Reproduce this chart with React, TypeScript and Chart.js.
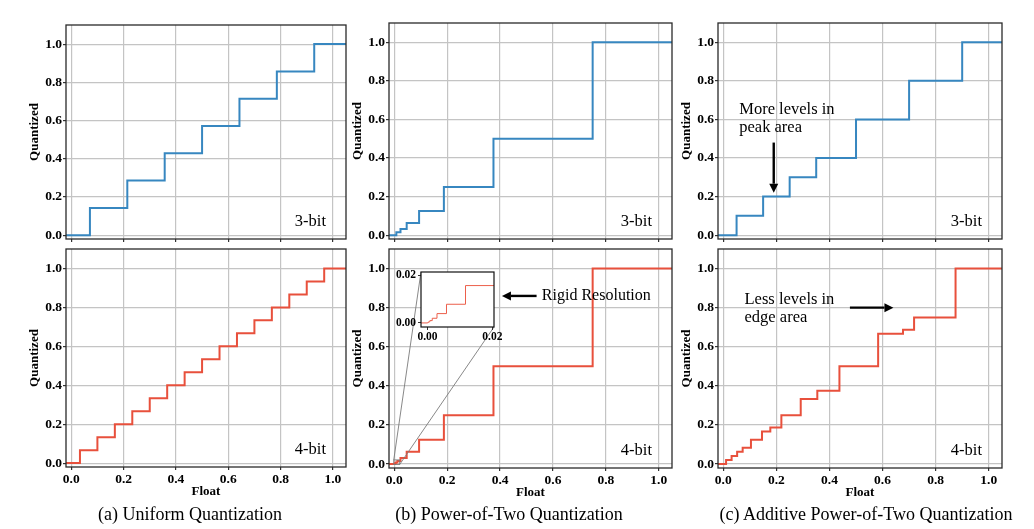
import React, { useEffect, useRef } from "react";
import { Chart, registerables } from "chart.js";

Chart.register(...registerables);

const SERIF = "'Liberation Serif', 'Times New Roman', serif";

// ---------- axes ----------
const X_TICKS = [0, 0.2, 0.4, 0.6, 0.8, 1.0];
const Y_TICKS = [0, 0.2, 0.4, 0.6, 0.8, 1.0];
const X_MIN = -0.02;
const X_MAX = 1.05;
const Y_MIN = -0.02;
const Y_MAX = 1.1;
const LINE_START = -0.05;
const LINE_END = 1.1;

const INSET_X_TICKS = [0, 0.02];
const INSET_Y_TICKS = [0, 0.02];
const INSET_X_MIN = -0.002;
const INSET_X_MAX = 0.0205;
const INSET_Y_MIN = -0.0017;
const INSET_Y_MAX = 0.0213;

// ---------- data ----------
const UNIFORM3_THRESH = [0.071429, 0.214286, 0.357143, 0.5, 0.642857, 0.785714, 0.928571];
const UNIFORM3_LEVELS = [0, 0.142857, 0.285714, 0.428571, 0.571429, 0.714286, 0.857143, 1.0];

const UNIFORM4_THRESH = [0.033333, 0.1, 0.166667, 0.233333, 0.3, 0.366667, 0.433333, 0.5, 0.566667, 0.633333, 0.7, 0.766667, 0.833333, 0.9, 0.966667];
const UNIFORM4_LEVELS = [0, 0.066667, 0.133333, 0.2, 0.266667, 0.333333, 0.4, 0.466667, 0.533333, 0.6, 0.666667, 0.733333, 0.8, 0.866667, 0.933333, 1.0];

const POT3_THRESH = [0.0078125, 0.0234375, 0.046875, 0.09375, 0.1875, 0.375, 0.75];
const POT3_LEVELS = [0, 0.015625, 0.03125, 0.0625, 0.125, 0.25, 0.5, 1.0];

const POT4_THRESH = [0.00003052, 0.00009155, 0.00018311, 0.00036621, 0.00073242, 0.00146484, 0.00292969, 0.00585938, 0.01171875, 0.0234375, 0.046875, 0.09375, 0.1875, 0.375, 0.75];
const POT4_LEVELS = [0, 0.00006104, 0.00012207, 0.00024414, 0.00048828, 0.00097656, 0.00195313, 0.00390625, 0.0078125, 0.015625, 0.03125, 0.0625, 0.125, 0.25, 0.5, 1.0];

const APOT3_THRESH = [0.05, 0.15, 0.25, 0.35, 0.5, 0.7, 0.9];
const APOT3_LEVELS = [0, 0.1, 0.2, 0.3, 0.4, 0.6, 0.8, 1.0];

const APOT4_THRESH = [0.010417, 0.03125, 0.052083, 0.072917, 0.104167, 0.145833, 0.177083, 0.21875, 0.291667, 0.354167, 0.4375, 0.583333, 0.677083, 0.71875, 0.875];
const APOT4_LEVELS = [0, 0.020833, 0.041667, 0.0625, 0.083333, 0.125, 0.166667, 0.1875, 0.25, 0.333333, 0.375, 0.5, 0.666667, 0.6875, 0.75, 1.0];

// ---------- text ----------
const CAPTIONS = [
  "(a) Uniform Quantization",
  "(b) Power-of-Two Quantization",
  "(c) Additive Power-of-Two Quantization",
];
const BIT_LABELS = ["3-bit", "4-bit"];
const X_TITLE = "Float";
const Y_TITLE = "Quantized";
const PEAK_TEXT = ["More levels in", "peak area"];
const EDGE_TEXT = ["Less levels in", "edge area"];
const RIGID_TEXT = ["Rigid Resolution"];

const BLUE = "#3787c0";
const RED = "#e8503c";
const GRID = "#c4c4c4";

type Frame = { l: number; t: number; r: number; b: number };
type TextAnn = { lines: string[]; x: number; y: number; size: number; gap: number };
type ArrowAnn = { from: [number, number]; to: [number, number] };
type PanelCfg = {
  frame: Frame;
  showX: boolean;
  color: string;
  thresh: number[];
  levels: number[];
  bit: string;
  texts: TextAnn[];
  arrows: ArrowAnn[];
  inset?: boolean;
};

const INSET_FRAC = { x0: 0.113, y0: 0.105, x1: 0.371, y1: 0.356 };

function stepPoints(th: number[], lv: number[], start: number, end: number) {
  const pts: { x: number; y: number }[] = [{ x: start, y: lv[0] }];
  th.forEach((t, i) => pts.push({ x: t, y: lv[i + 1] }));
  pts.push({ x: end, y: lv[lv.length - 1] });
  return pts;
}

function drawArrow(ctx: CanvasRenderingContext2D, x0: number, y0: number, x1: number, y1: number) {
  const head = 9;
  const hw = 4.5;
  const ang = Math.atan2(y1 - y0, x1 - x0);
  const bx = x1 - head * Math.cos(ang);
  const by = y1 - head * Math.sin(ang);
  ctx.beginPath();
  ctx.moveTo(x0, y0);
  ctx.lineTo(bx, by);
  ctx.lineWidth = 2.4;
  ctx.strokeStyle = "#000";
  ctx.stroke();
  ctx.beginPath();
  ctx.moveTo(x1, y1);
  ctx.lineTo(bx - hw * Math.sin(ang), by + hw * Math.cos(ang));
  ctx.lineTo(bx + hw * Math.sin(ang), by - hw * Math.cos(ang));
  ctx.closePath();
  ctx.fillStyle = "#000";
  ctx.fill();
}

function makeDeco(cfg: PanelCfg) {
  return {
    id: "deco",
    afterDatasetsDraw(chart: any) {
      const ctx: CanvasRenderingContext2D = chart.ctx;
      const ca = chart.chartArea;
      const xs = chart.scales.x;
      const ys = chart.scales.y;
      ctx.save();
      ctx.strokeStyle = "#2a2a2a";
      ctx.lineWidth = 1.3;
      ctx.strokeRect(ca.left, ca.top, ca.right - ca.left, ca.bottom - ca.top);

      ctx.fillStyle = "#000";
      ctx.font = `16.5px ${SERIF}`;
      ctx.textAlign = "right";
      ctx.textBaseline = "alphabetic";
      ctx.fillText(cfg.bit, ca.right - 20, ca.bottom - 13);

      ctx.textAlign = "left";
      cfg.texts.forEach((t) => {
        ctx.font = `${t.size}px ${SERIF}`;
        const px = xs.getPixelForValue(t.x);
        const py = ys.getPixelForValue(t.y);
        t.lines.forEach((ln, i) => ctx.fillText(ln, px, py + i * t.gap));
      });
      cfg.arrows.forEach((a) => {
        drawArrow(
          ctx,
          xs.getPixelForValue(a.from[0]),
          ys.getPixelForValue(a.from[1]),
          xs.getPixelForValue(a.to[0]),
          ys.getPixelForValue(a.to[1])
        );
      });

      if (cfg.inset) {
        const w = ca.right - ca.left;
        const h = ca.bottom - ca.top;
        const ix0 = ca.left + INSET_FRAC.x0 * w;
        const iy0 = ca.top + INSET_FRAC.y0 * h;
        const ix1 = ca.left + INSET_FRAC.x1 * w;
        const iy1 = ca.top + INSET_FRAC.y1 * h;
        const rx0 = xs.getPixelForValue(INSET_X_MIN);
        const rx1 = xs.getPixelForValue(INSET_X_MAX);
        const ry0 = ys.getPixelForValue(INSET_Y_MAX);
        const ry1 = ys.getPixelForValue(INSET_Y_MIN);
        ctx.strokeStyle = "#7a7a7a";
        ctx.lineWidth = 0.9;
        ctx.strokeRect(rx0, ry0, rx1 - rx0, ry1 - ry0);
        ctx.beginPath();
        ctx.moveTo(ix0, iy0);
        ctx.lineTo(rx0, ry0);
        ctx.moveTo(ix1, iy1);
        ctx.lineTo(rx1, ry1);
        ctx.stroke();
      }
      ctx.restore();
    },
  };
}

const PAD_L = 43;
const PAD_R = 10;
const PAD_T = 10;

function Panel({ cfg }: { cfg: PanelCfg }) {
  const ref = useRef<HTMLCanvasElement>(null);
  const f = cfg.frame;
  const padB = cfg.showX ? 32 : 12;
  const W = f.r - f.l + PAD_L + PAD_R;
  const H = f.b - f.t + PAD_T + padB;

  useEffect(() => {
    const tickFont = { family: SERIF, size: 13.5, weight: "bold" as const };
    const titleFont = { family: SERIF, size: 13, weight: "bold" as const };
    const chart = new Chart(ref.current!, {
      type: "line",
      data: {
        datasets: [
          {
            data: stepPoints(cfg.thresh, cfg.levels, LINE_START, LINE_END),
            borderColor: cfg.color,
            borderWidth: 2,
            stepped: true,
            pointRadius: 0,
            fill: false,
          },
        ],
      },
      options: {
        responsive: false,
        animation: false,
        layout: { padding: { left: 0, top: PAD_T, right: PAD_R, bottom: 0 } },
        plugins: { legend: { display: false }, tooltip: { enabled: false } },
        scales: {
          x: {
            type: "linear",
            min: X_MIN,
            max: X_MAX,
            afterBuildTicks: (s: any) => {
              s.ticks = X_TICKS.map((v) => ({ value: v }));
            },
            afterFit: (s: any) => {
              s.height = padB;
            },
            grid: { color: GRID, lineWidth: 1.2, tickLength: 3, tickColor: "#333" },
            border: { display: false },
            ticks: {
              display: cfg.showX,
              font: tickFont,
              color: "#000",
              padding: 1,
              maxRotation: 0,
              autoSkip: false,
              callback: (v: any) => Number(v).toFixed(1),
            },
            title: {
              display: cfg.showX,
              text: X_TITLE,
              font: titleFont,
              color: "#000",
              padding: { top: 0, bottom: 0 },
            },
          },
          y: {
            type: "linear",
            min: Y_MIN,
            max: Y_MAX,
            afterBuildTicks: (s: any) => {
              s.ticks = Y_TICKS.map((v) => ({ value: v }));
            },
            afterFit: (s: any) => {
              s.width = PAD_L;
            },
            grid: { color: GRID, lineWidth: 1.2, tickLength: 3, tickColor: "#333" },
            border: { display: false },
            ticks: {
              font: tickFont,
              color: "#000",
              padding: 1,
              autoSkip: false,
              callback: (v: any) => Number(v).toFixed(1),
            },
            title: {
              display: true,
              text: Y_TITLE,
              font: titleFont,
              color: "#000",
              padding: { top: 4, bottom: 0 },
            },
          },
        },
      },
      plugins: [makeDeco(cfg)],
    });
    return () => chart.destroy();
  }, []);

  return (
    <canvas
      ref={ref}
      width={W}
      height={H}
      style={{ position: "absolute", left: f.l - PAD_L, top: f.t - PAD_T, width: W, height: H }}
    />
  );
}

function Inset({ host }: { host: Frame }) {
  const ref = useRef<HTMLCanvasElement>(null);
  const hw = host.r - host.l;
  const hh = host.b - host.t;
  const l = host.l + INSET_FRAC.x0 * hw;
  const t = host.t + INSET_FRAC.y0 * hh;
  const r = host.l + INSET_FRAC.x1 * hw;
  const b = host.t + INSET_FRAC.y1 * hh;
  const padL = 30;
  const padR = 12;
  const padT = 10;
  const padB = 16;
  const W = Math.round(r - l + padL + padR);
  const H = Math.round(b - t + padT + padB);

  useEffect(() => {
    const tickFont = { family: SERIF, size: 11.5, weight: "bold" as const };
    const chart = new Chart(ref.current!, {
      type: "line",
      data: {
        datasets: [
          {
            data: stepPoints(POT4_THRESH, POT4_LEVELS, LINE_START, LINE_END),
            borderColor: "#ec5f4b",
            borderWidth: 1,
            stepped: true,
            pointRadius: 0,
            fill: false,
          },
        ],
      },
      options: {
        responsive: false,
        animation: false,
        layout: { padding: { left: 0, top: padT, right: padR, bottom: 0 } },
        plugins: { legend: { display: false }, tooltip: { enabled: false } },
        scales: {
          x: {
            type: "linear",
            min: INSET_X_MIN,
            max: INSET_X_MAX,
            afterBuildTicks: (s: any) => {
              s.ticks = INSET_X_TICKS.map((v) => ({ value: v }));
            },
            afterFit: (s: any) => {
              s.height = padB;
            },
            grid: { drawOnChartArea: false, tickLength: 3, tickColor: "#333" },
            border: { display: false },
            ticks: {
              font: tickFont,
              color: "#000",
              padding: 0,
              maxRotation: 0,
              autoSkip: false,
              callback: (v: any) => Number(v).toFixed(2),
            },
          },
          y: {
            type: "linear",
            min: INSET_Y_MIN,
            max: INSET_Y_MAX,
            afterBuildTicks: (s: any) => {
              s.ticks = INSET_Y_TICKS.map((v) => ({ value: v }));
            },
            afterFit: (s: any) => {
              s.width = padL;
            },
            grid: { drawOnChartArea: false, tickLength: 3, tickColor: "#333" },
            border: { display: false },
            ticks: {
              font: tickFont,
              color: "#000",
              padding: 2,
              autoSkip: false,
              callback: (v: any) => Number(v).toFixed(2),
            },
          },
        },
      },
      plugins: [
        {
          id: "insetbg",
          beforeDatasetsDraw(chart: any) {
            const ca = chart.chartArea;
            const ctx = chart.ctx;
            ctx.save();
            ctx.fillStyle = "#fff";
            ctx.fillRect(ca.left, ca.top, ca.right - ca.left, ca.bottom - ca.top);
            ctx.restore();
          },
          afterDatasetsDraw(chart: any) {
            const ca = chart.chartArea;
            const ctx = chart.ctx;
            ctx.save();
            ctx.strokeStyle = "#111";
            ctx.lineWidth = 1.2;
            ctx.strokeRect(ca.left, ca.top, ca.right - ca.left, ca.bottom - ca.top);
            ctx.restore();
          },
        },
      ],
    });
    return () => chart.destroy();
  }, []);

  return (
    <canvas
      ref={ref}
      width={W}
      height={H}
      style={{ position: "absolute", left: Math.round(l) - padL, top: Math.round(t) - padT, width: W, height: H }}
    />
  );
}

const A_TOP: Frame = { l: 66, t: 25, r: 346, b: 239 };
const A_BOT: Frame = { l: 66, t: 249, r: 346, b: 467 };
const B_TOP: Frame = { l: 389, t: 23, r: 672, b: 239 };
const B_BOT: Frame = { l: 389, t: 249, r: 672, b: 468 };
const C_TOP: Frame = { l: 718, t: 23, r: 1002, b: 239 };
const C_BOT: Frame = { l: 718, t: 249, r: 1002, b: 468 };

const PANELS: PanelCfg[] = [
  { frame: A_TOP, showX: false, color: BLUE, thresh: UNIFORM3_THRESH, levels: UNIFORM3_LEVELS, bit: BIT_LABELS[0], texts: [], arrows: [] },
  { frame: A_BOT, showX: true, color: RED, thresh: UNIFORM4_THRESH, levels: UNIFORM4_LEVELS, bit: BIT_LABELS[1], texts: [], arrows: [] },
  { frame: B_TOP, showX: false, color: BLUE, thresh: POT3_THRESH, levels: POT3_LEVELS, bit: BIT_LABELS[0], texts: [], arrows: [] },
  {
    frame: B_BOT, showX: true, color: RED, thresh: POT4_THRESH, levels: POT4_LEVELS, bit: BIT_LABELS[1],
    texts: [{ lines: RIGID_TEXT, x: 0.558, y: 0.837, size: 16, gap: 18 }],
    arrows: [{ from: [0.538, 0.86], to: [0.407, 0.86] }],
    inset: true,
  },
  {
    frame: C_TOP, showX: false, color: BLUE, thresh: APOT3_THRESH, levels: APOT3_LEVELS, bit: BIT_LABELS[0],
    texts: [{ lines: PEAK_TEXT, x: 0.06, y: 0.63, size: 16.5, gap: 18 }],
    arrows: [{ from: [0.19, 0.48], to: [0.19, 0.22] }],
  },
  {
    frame: C_BOT, showX: true, color: RED, thresh: APOT4_THRESH, levels: APOT4_LEVELS, bit: BIT_LABELS[1],
    texts: [{ lines: EDGE_TEXT, x: 0.08, y: 0.817, size: 16.5, gap: 18 }],
    arrows: [{ from: [0.477, 0.8], to: [0.641, 0.8] }],
  },
];

const CAPTION_X = [190, 509, 866];

export default function App() {
  return (
    <div style={{ position: "absolute", left: 0, top: 0, width: 1034, height: 529, background: "#fff", overflow: "hidden" }}>
      {PANELS.map((p, i) => (
        <Panel key={i} cfg={p} />
      ))}
      <Inset host={B_BOT} />
      {CAPTIONS.map((c, i) => (
        <div
          key={c}
          style={{
            position: "absolute",
            left: CAPTION_X[i],
            top: 505,
            transform: "translateX(-50%)",
            whiteSpace: "nowrap",
            fontFamily: SERIF,
            fontSize: 18,
            lineHeight: "18px",
            color: "#000",
          }}
        >
          {c}
        </div>
      ))}
    </div>
  );
}
